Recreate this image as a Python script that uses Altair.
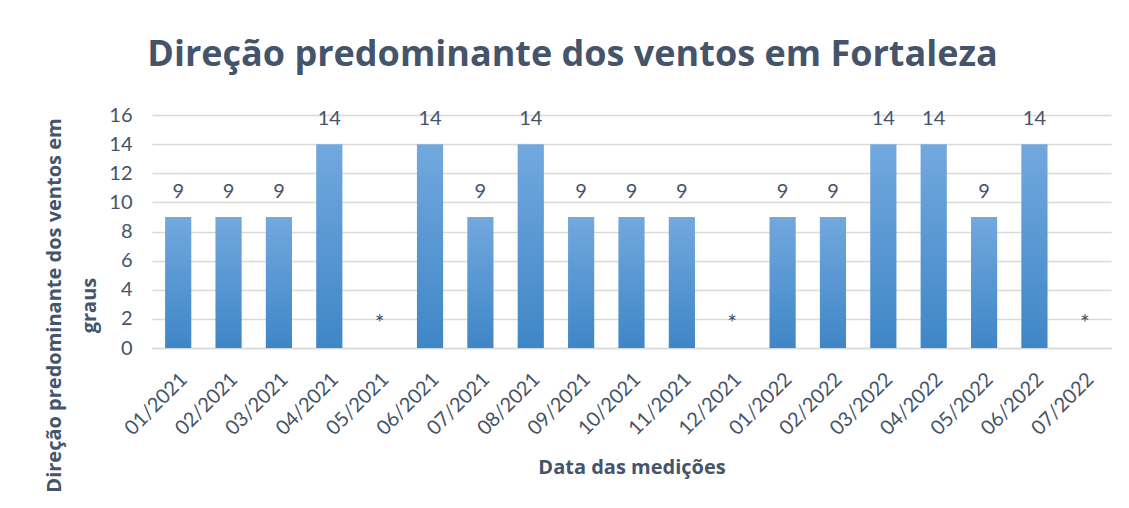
import altair as alt
import pandas as pd

months = ["01/2021", "02/2021", "03/2021", "04/2021", "05/2021", "06/2021",
          "07/2021", "08/2021", "09/2021", "10/2021", "11/2021", "12/2021",
          "01/2022", "02/2022", "03/2022", "04/2022", "05/2022", "06/2022",
          "07/2022"]
values = [9, 9, 9, 14, None, 14, 9, 14, 9, 9, 9, None, 9, 9, 14, 14, 9, 14, None]
y_ticks = [0, 2, 4, 6, 8, 10, 12, 14, 16]
missing_mark = "*"
missing_level = 2

df = pd.DataFrame({"mes": months, "valor": values})
df["label"] = df["valor"].apply(lambda v: missing_mark if pd.isna(v) else str(int(v)))
df["label_y"] = df["valor"].apply(lambda v: missing_level if pd.isna(v) else v)
df["is_missing"] = df["valor"].isna()

TXT = "#44546a"
FONT = "Lato"
TFONT = "Open Sans"

x_axis = alt.Axis(title="Data das medições", labelAngle=-45, labelAlign="right",
                  labelBaseline="middle", labelFontSize=20, labelColor=TXT,
                  labelFont=FONT, labelPadding=28, labelOffset=6, ticks=False,
                  labelOverlap=False,
                  domainColor="#d9d9d9", domainWidth=1.5, grid=False,
                  titleFont=TFONT, titleFontSize=20, titleFontWeight="bold",
                  titleColor=TXT, titleY=125, titleBaseline="alphabetic")

y_axis = alt.Axis(title=["Direção predominante dos ventos em", "graus"],
                  values=y_ticks, labelFontSize=20, labelColor=TXT,
                  labelFont=FONT, labelPadding=20, ticks=False, domain=False,
                  labelOverlap=False, grid=True,
                  gridColor="#d9d9d9", gridWidth=1.5,
                  titleFont=TFONT, titleFontSize=20, titleFontWeight="bold",
                  titleColor=TXT, titleAngle=-90, titleLineHeight=35,
                  titleX=-108, titleY=190, titleAlign="center",
                  titleBaseline="top")

x_scale = alt.Scale(paddingInner=0.48, paddingOuter=0.26)
y_scale = alt.Scale(domain=[0, 16])

bars = alt.Chart(df).mark_bar(
    color=alt.Gradient(
        gradient="linear",
        stops=[alt.GradientStop(color="#72a8de", offset=0),
               alt.GradientStop(color="#3f86c7", offset=1)],
        x1=1, x2=1, y1=0, y2=1)
).encode(x=alt.X("mes:N", sort=months, scale=x_scale, axis=x_axis),
         y=alt.Y("valor:Q", scale=y_scale, axis=y_axis))

labels = alt.Chart(df).transform_filter("!datum.is_missing").mark_text(
    font=FONT, fontSize=20, color=TXT, baseline="middle", dy=-25
).encode(x=alt.X("mes:N", sort=months, scale=x_scale, axis=x_axis),
         y=alt.Y("label_y:Q", scale=y_scale, axis=y_axis), text="label:N")

stars = alt.Chart(df).transform_filter("datum.is_missing").mark_text(
    font=FONT, fontSize=23, color=TXT, baseline="middle", dy=5
).encode(x=alt.X("mes:N", sort=months, scale=x_scale, axis=x_axis),
         y=alt.Y("label_y:Q", scale=y_scale, axis=y_axis), text="label:N")

chart = alt.layer(bars, labels, stars).properties(
    width=959, height=233,
    title=alt.TitleParams(
        "Direção predominante dos ventos em Fortaleza",
        font=TFONT, fontSize=36, fontWeight="bold", color=TXT, frame="group",
        anchor="middle", dx=-59, offset=3, baseline="alphabetic"),
    autosize=alt.AutoSizeParams(type="none"),
    padding={"left": 144, "top": 107, "right": 10, "bottom": 152},
).configure(background="white", view=alt.ViewConfig(stroke=None))

chart.save("out.html", embed_options={"renderer": "svg", "actions": False})
